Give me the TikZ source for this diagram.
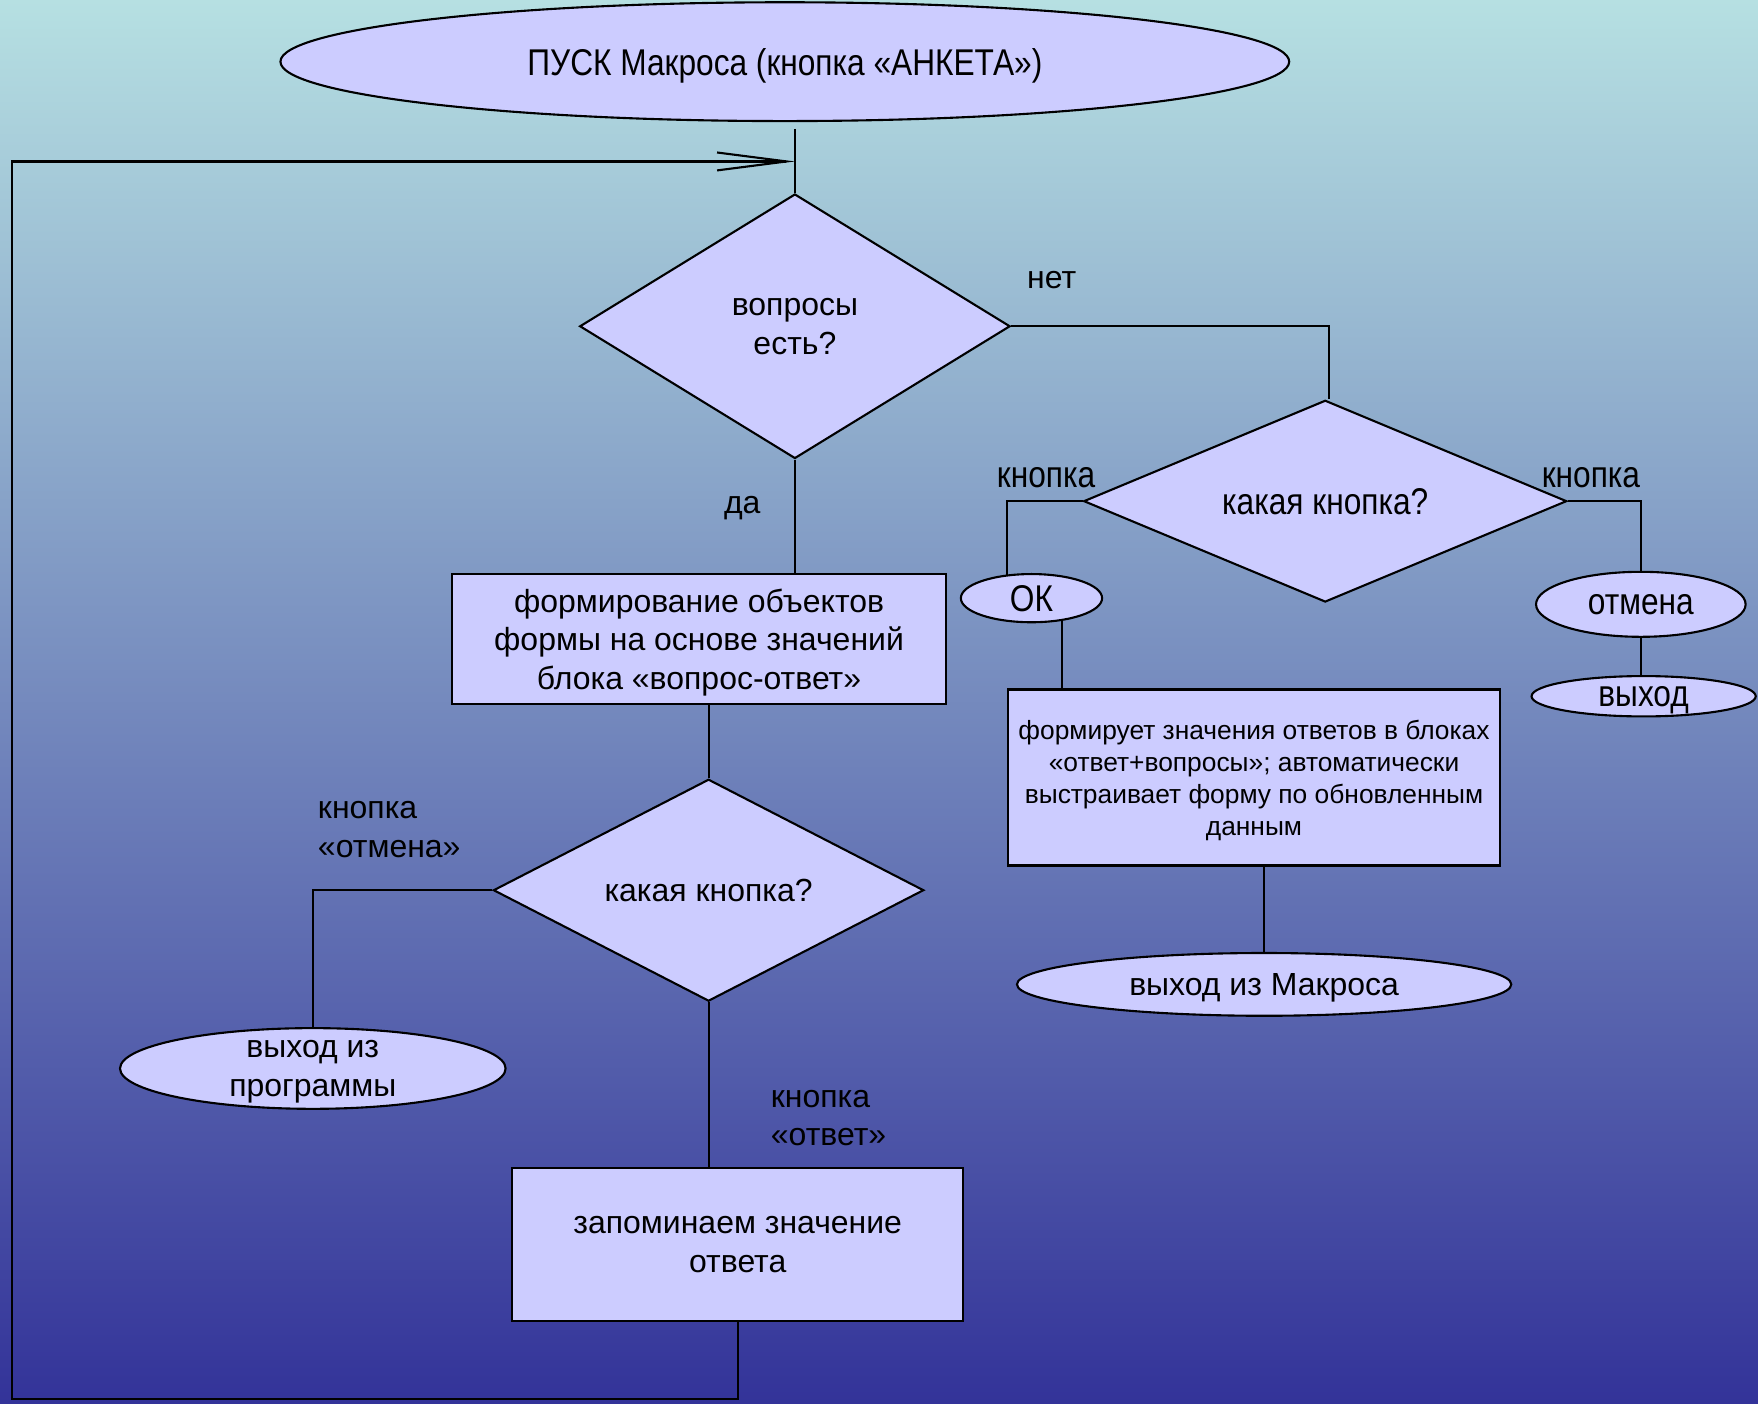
\documentclass[tikz,border=0pt]{standalone}
\usepackage{fontspec}
\setmainfont{Liberation Sans}
\newfontfamily\narrowf[FakeStretch=0.85]{Liberation Sans}
\usetikzlibrary{shapes.geometric,arrows.meta}
\definecolor{bgtop}{RGB}{182,224,226}
\definecolor{bgbot}{RGB}{51,51,153}
\definecolor{nodefill}{RGB}{204,204,255}
\def\pxu{0.3190pt}
\newcommand\mainsz{\fontsize{9.1}{10.9}\selectfont}
\newcommand\narsz{\narrowf\fontsize{10.6}{12.7}\selectfont}
\newcommand\smallsz{\fontsize{7.5}{9.1}\selectfont}
\begin{document}
\begin{tikzpicture}[x=0.011212cm,y=-0.011212cm,
  shp/.style={draw=black,line width=0.6pt,fill=nodefill,inner sep=0pt,align=center,font=\mainsz,text depth=0pt},
  oval/.style={shp,ellipse},
  rhomb/.style={shp,diamond,aspect=2},
  box/.style={shp,rectangle},
  lbl/.style={inner sep=0pt,align=left,font=\mainsz},
  conn/.style={draw=black,line width=0.6pt}]
\useasboundingbox (0,0) rectangle (1568,1252);
\shade[top color=bgtop,bottom color=bgbot] (0,0) rectangle (1568,1252);

% nodes
\node[oval,font=\narsz,minimum width=900*\pxu,minimum height=106*\pxu] (start) at (700,55) {ПУСК Макроса (кнопка «АНКЕТА»)};
\node[rhomb,minimum width=384*\pxu,minimum height=236*\pxu] (d1) at (709,291) {вопросы\\есть?};
\node[rhomb,font=\narsz,minimum width=431*\pxu,minimum height=180*\pxu] (d2) at (1182,447) {какая кнопка?};
\node[rhomb,minimum width=384*\pxu,minimum height=198*\pxu] (d3) at (632,794) {какая кнопка?};
\node[box,minimum width=441*\pxu,minimum height=116*\pxu] (b1) at (623.5,570) {формирование объектов\\формы на основе значений\\блока «вопрос-ответ»};
\node[box,minimum width=402*\pxu,minimum height=136*\pxu] (b2) at (658,1110) {запоминаем значение\\ответа};
\node[box,font=\smallsz,minimum width=439*\pxu,minimum height=157*\pxu] (b3) at (1118.5,693.5) {формирует значения ответов в блоках\\«ответ+вопросы»; автоматически\\выстраивает форму по обновленным\\данным};
\node[oval,minimum width=344*\pxu,minimum height=72*\pxu] (prog) at (279,953) {выход из\\программы};
\node[oval,font=\narsz,minimum width=126*\pxu,minimum height=43*\pxu] (ok) at (920,533.5) {ОК};
\node[oval,font=\narsz,minimum width=187*\pxu,minimum height=58*\pxu] (otm) at (1463.5,539) {отмена};
\node[oval,font=\narsz,minimum width=200*\pxu,minimum height=36*\pxu] (vyh) at (1466,621) {выход};
\node[oval,minimum width=441*\pxu,minimum height=56*\pxu] (ex) at (1127.5,878) {выход из Макроса};

% labels
\node[lbl] (lnet) at (938,250) {нет};
\node[lbl] (lda) at (662,453) {да};
\node[lbl,font=\narsz] (lk1) at (933,426) {кнопка};
\node[lbl,font=\narsz] (lk2) at (1419,426) {кнопка};
\node[lbl,anchor=west] (lotm) at (283,740) {кнопка\\«отмена»};
\node[lbl,anchor=west] (lotv) at (687,997) {кнопка\\«ответ»};

% coordinates
\coordinate (topj) at (709,115);
\coordinate (join) at (709,144);
\coordinate (lft) at (11,1248);

% connectors
\draw[conn] (topj) -- (d1.north);
\draw[conn] (d1.east) -| ([xshift=3*\pxu]d2.north);
\draw[conn] (d1.south) -- (d1.south |- b1.north);
\draw[conn] (d3.north |- b1.south) -- (d3.north);
\draw[conn] (d3.west) -| (prog.north);
\draw[conn] (d3.south) -- (d3.south |- b2.north);
\draw[conn] (d2.west) -| (ok.136);
\draw[conn] (ok.-37) -- (ok.-37 |- b3.north);
\draw[conn] (ex.north |- b3.south) -- (ex.north);
\draw[conn] (d2.east) -| (otm.north);
\draw[conn] (otm.south) -- (otm.south |- vyh.north);
\draw[conn,-{Straight Barb[length=19.8pt,width=5.1pt]}] (b2.south) |- (lft) |- (join);
\end{tikzpicture}
\end{document}
